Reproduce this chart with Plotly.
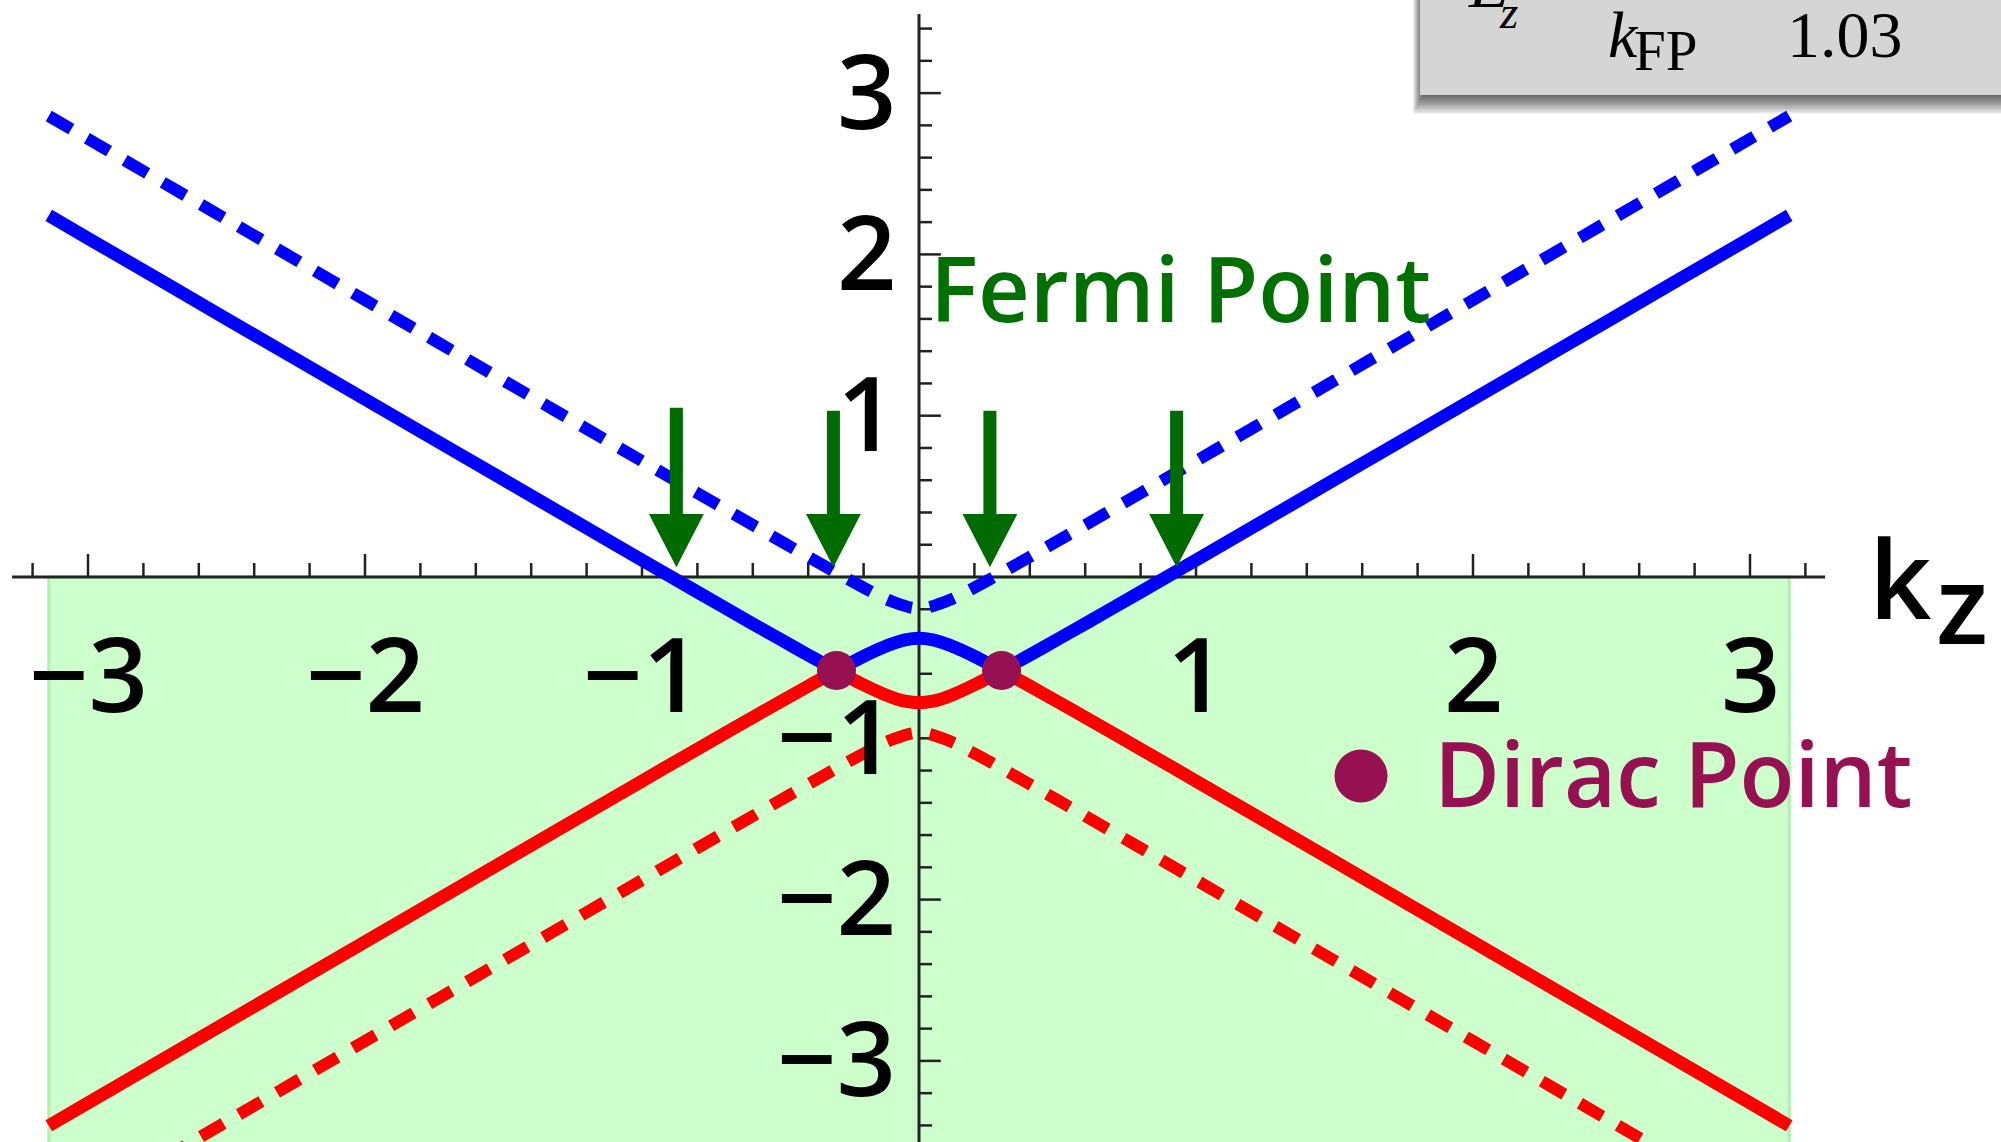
import plotly.graph_objects as go

# ---- band data: energy E versus k_z ----
k_solid = [-3.1416, -3.0, -2.5, -2.0, -1.5, -1.0, -0.8, -0.6, -0.5, -0.4, -0.35, -0.298,
           -0.25, -0.2, -0.15, -0.1, -0.05, 0.0, 0.05, 0.1, 0.15, 0.2, 0.25, 0.298,
           0.35, 0.4, 0.5, 0.6, 0.8, 1.0, 1.5, 2.0, 2.5, 3.0, 3.1416]
E_upper_solid = [2.242, 2.10, 1.601, 1.102, 0.603, 0.105, -0.093, -0.29, -0.387, -0.484, -0.531, -0.58,
                 -0.536, -0.492, -0.451, -0.416, -0.39, -0.38, -0.39, -0.416, -0.451, -0.492, -0.536, -0.58,
                 -0.531, -0.484, -0.387, -0.29, -0.093, 0.105, 0.603, 1.102, 1.601, 2.10, 2.242]
E_lower_solid = [-3.402, -3.26, -2.761, -2.262, -1.763, -1.265, -1.067, -0.87, -0.773, -0.676, -0.629, -0.58,
                 -0.624, -0.668, -0.709, -0.744, -0.77, -0.78, -0.77, -0.744, -0.709, -0.668, -0.624, -0.58,
                 -0.629, -0.676, -0.773, -0.87, -1.067, -1.265, -1.763, -2.262, -2.761, -3.26, -3.402]

k_dashed = [-3.1416, -3.0, -2.5, -2.0, -1.5, -1.0, -0.8, -0.6, -0.5, -0.4, -0.3, -0.2, -0.1, 0.0,
            0.1, 0.2, 0.3, 0.4, 0.5, 0.6, 0.8, 1.0, 1.5, 2.0, 2.5, 3.0, 3.1416]
E_upper_dashed = [2.858, 2.716, 2.217, 1.717, 1.218, 0.719, 0.52, 0.322, 0.223, 0.125, 0.028, -0.066, -0.15, -0.195,
                  -0.15, -0.066, 0.028, 0.125, 0.223, 0.322, 0.52, 0.719, 1.218, 1.717, 2.217, 2.716, 2.858]
E_lower_dashed = [-4.018, -3.876, -3.377, -2.877, -2.378, -1.879, -1.68, -1.482, -1.383, -1.285, -1.188, -1.094, -1.01, -0.965,
                  -1.01, -1.094, -1.188, -1.285, -1.383, -1.482, -1.68, -1.879, -2.378, -2.877, -3.377, -3.876, -4.018]

# Dirac points (band crossings) and Fermi-point arrows
dirac_k = [-0.298, 0.298]
dirac_E = [-0.58, -0.58]
arrow_k = [-0.876, -0.309, 0.256, 0.93]
arrow_top = [1.05, 1.03, 1.03, 1.03]

# Brillouin zone (occupied states shaded)
bz_edge = 3.1416

# axis ticks
x_tick_vals = [-3, -2, -1, 1, 2, 3]
x_tick_text = ["\u22123", "\u22122", "\u22121", "1", "2", "3"]
y_tick_vals = [-3, -2, -1, 1, 2, 3]
y_tick_text = ["\u22123", "\u22122", "\u22121", "1", "2", "3"]
x_minor = [round(i * 0.2, 1) for i in range(-16, 17) if i != 0]
y_minor = [round(i * 0.2, 1) for i in range(-17, 18) if i != 0]

# ---- style ----
BLUE = "#0000FF"
RED = "#FF0000"
DIRAC = "#961052"
FERMI = "#007000"
ARROW = "#006C00"
FILL = "#CCFFCC"
AXIS = "#222222"
SANS = "Open Sans"
SANS_WEIGHT = 600
W, H = 2001, 1142
X0_PX, Y0_PX = 919, 577          # pixel position of the origin
KX, EY = 277.0, 161.3            # pixels per unit
x_range = [-X0_PX / KX, (W - X0_PX) / KX]
y_range = [-(H - Y0_PX) / EY, Y0_PX / EY]

fig = go.Figure()

# drawn axes with ticks
tx, ty = [], []
for t in x_minor:
    L = 0.143 if abs(t - round(t)) < 1e-9 else 0.087
    tx += [t, t, None]
    ty += [0, L, None]
for t in y_minor:
    L = 0.079 if abs(t - round(t)) < 1e-9 else 0.047
    tx += [0, L, None]
    ty += [t, t, None]
fig.add_trace(go.Scatter(x=tx, y=ty, mode="lines", line=dict(color=AXIS, width=2.5),
                         hoverinfo="skip", showlegend=False))
fig.add_trace(go.Scatter(x=[-3.274, 3.271, None, 0, 0], y=[0, 0, None, -3.6, 3.49], mode="lines",
                         line=dict(color=AXIS, width=3), hoverinfo="skip", showlegend=False))

# bands
fig.add_trace(go.Scatter(x=k_dashed, y=E_upper_dashed, mode="lines", line_shape="spline",
                         line=dict(color=BLUE, width=12, dash="26px,18px"), showlegend=False))
fig.add_trace(go.Scatter(x=k_dashed, y=E_lower_dashed, mode="lines", line_shape="spline",
                         line=dict(color=RED, width=12, dash="26px,18px"), showlegend=False))
fig.add_trace(go.Scatter(x=k_solid, y=E_upper_solid, mode="lines", line_shape="spline",
                         line=dict(color=BLUE, width=13, smoothing=0.8), showlegend=False))
fig.add_trace(go.Scatter(x=k_solid, y=E_lower_solid, mode="lines", line_shape="spline",
                         line=dict(color=RED, width=13, smoothing=0.8), showlegend=False))
fig.add_trace(go.Scatter(x=dirac_k, y=dirac_E, mode="markers",
                         marker=dict(color=DIRAC, size=39, line=dict(width=0)), showlegend=False))

shapes = []
# shaded occupied region
shapes.append(dict(type="rect", xref="x", yref="y", x0=-bz_edge, x1=bz_edge, y0=-3.7, y1=0,
                   fillcolor=FILL, line=dict(color="#A8F5A8", width=3), layer="below"))

# Fermi-point arrows
shaft_hw, head_hw, head_base, tip = 0.0235, 0.099, 0.39, 0.06
for k, top in zip(arrow_k, arrow_top):
    path = (f"M {k-shaft_hw},{top} L {k+shaft_hw},{top} L {k+shaft_hw},{head_base} "
            f"L {k+head_hw},{head_base} L {k},{tip} L {k-head_hw},{head_base} "
            f"L {k-shaft_hw},{head_base} Z")
    shapes.append(dict(type="path", xref="x", yref="y", path=path,
                       fillcolor=ARROW, line=dict(width=0), layer="above"))

# parameter box (top right) with soft drop shadow
def px(x):
    return x / W

def py(y):
    return 1 - y / H

for i in range(1, 12):
    shapes.append(dict(type="rect", xref="paper", yref="paper",
                       x0=px(1423 - 0.9 * i), x1=1.05, y0=py(94 + 1.8 * i), y1=1.05,
                       fillcolor="rgba(0,0,0,0.075)", line=dict(width=0), layer="above"))
shapes.append(dict(type="rect", xref="paper", yref="paper", x0=px(1420), x1=1.05,
                   y0=py(95), y1=1.05, fillcolor="#D5D5D5", line=dict(width=0), layer="above"))

# legend dot for Dirac points
shapes.append(dict(type="circle", xref="paper", yref="paper",
                   x0=px(1361 - 26.5), x1=px(1361 + 26.5), y0=py(776 + 26.5), y1=py(776 - 26.5),
                   fillcolor=DIRAC, line=dict(width=0), layer="above"))

ann = []
for v, t in zip(x_tick_vals, x_tick_text):
    ann.append(dict(x=v, y=-0.587, xref="x", yref="y", text=t, showarrow=False,
                    xanchor="center", yanchor="middle",
                    font=dict(family=SANS, size=104, color="black", weight=SANS_WEIGHT)))
for v, t in zip(y_tick_vals, y_tick_text):
    ann.append(dict(x=-0.076, y=v, xref="x", yref="y", text=t, showarrow=False,
                    xanchor="right", yanchor="middle", yshift=5,
                    font=dict(family=SANS, size=104, color="black", weight=SANS_WEIGHT)))

# axis label k_z
ann.append(dict(x=px(1867), y=py(619 - 0.388 * 109), xref="paper", yref="paper", text="k",
                showarrow=False, xanchor="left", yanchor="middle",
                font=dict(family=SANS, size=109, color="black", weight=SANS_WEIGHT)))
ann.append(dict(x=px(1934), y=py(644 - 0.388 * 109), xref="paper", yref="paper", text="z",
                showarrow=False, xanchor="left", yanchor="middle",
                font=dict(family=SANS, size=109, color="black", weight=SANS_WEIGHT)))

# labels
ann.append(dict(x=px(928), y=py(322 - 0.388 * 90), xref="paper", yref="paper", text="Fermi Point",
                showarrow=False, xanchor="left", yanchor="middle",
                font=dict(family=SANS, size=90, color=FERMI, weight=SANS_WEIGHT)))
ann.append(dict(x=px(1432), y=py(807 - 0.388 * 90), xref="paper", yref="paper", text="Dirac Point",
                showarrow=False, xanchor="left", yanchor="middle",
                font=dict(family=SANS, size=90, color=DIRAC, weight=SANS_WEIGHT)))

# parameter box contents
SERIF = "Liberation Serif"
box_items = [
    ("<i>E</i>", 1466, 7, 66),
    ("<i>z</i>", 1497, 28, 47),
    ("<i>k</i>", 1606, 57, 66),
    ("FP", 1632, 70, 57),
    ("1.03", 1785, 57, 66),
]
for text, xl, base, size in box_items:
    ann.append(dict(x=px(xl), y=py(base - 0.3375 * size), xref="paper", yref="paper", text=text,
                    showarrow=False, xanchor="left", yanchor="middle",
                    font=dict(family=SERIF, size=size, color="black")))

fig.update_layout(
    width=W, height=H, autosize=False,
    margin=dict(l=0, r=0, t=0, b=0, pad=0),
    paper_bgcolor="white", plot_bgcolor="white",
    xaxis=dict(range=x_range, visible=False, fixedrange=True),
    yaxis=dict(range=y_range, visible=False, fixedrange=True),
    shapes=shapes, annotations=ann, showlegend=False,
)

fig.write_html("out.html")
